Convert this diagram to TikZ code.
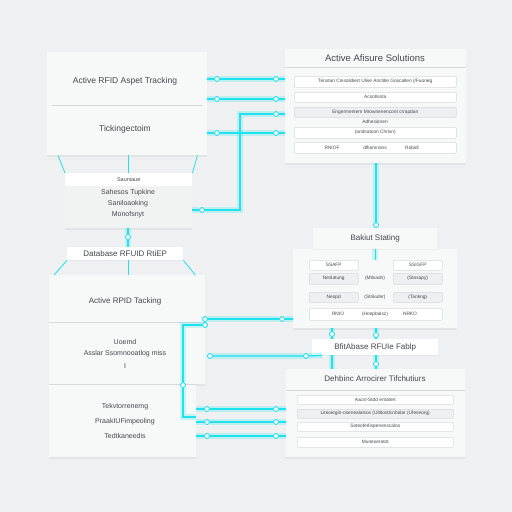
\documentclass[tikz,border=0pt]{standalone}
\usepackage{fontspec}
\setmainfont{Liberation Sans}
\usetikzlibrary{shadows}
\definecolor{bgcol}{HTML}{EEF0F1}
\definecolor{panelcol}{HTML}{F7F8F8}
\definecolor{bodycol}{HTML}{F1F3F3}
\definecolor{rowline}{HTML}{D6DADC}
\definecolor{rowgray}{HTML}{EDEFF0}
\definecolor{wirecol}{HTML}{1EE3EE}
\definecolor{textcol}{HTML}{45484B}
\begin{document}
\begin{tikzpicture}[x=1pt, y=-1pt,
	panel/.style={rectangle, anchor=north west, fill=panelcol, inner sep=0pt, drop shadow={shadow xshift=0pt, shadow yshift=-1.5pt, opacity=0.10}},
	tag/.style={rectangle, anchor=north west, fill=white, inner sep=0pt, text=textcol, font=\fontsize{8}{9}\selectfont, drop shadow={shadow xshift=0pt, shadow yshift=-1pt, opacity=0.08}},
	hdr/.style={rectangle, anchor=north west, fill=white, inner sep=0pt, text=textcol, font=\fontsize{5.5}{6}\selectfont},
	row/.style={rectangle, anchor=north west, draw=rowline, line width=0.5pt, fill=white, rounded corners=1pt, inner sep=0pt, text=textcol, font=\fontsize{4.8}{5}\selectfont},
	rowg/.style={row, fill=rowgray},
	lbl/.style={text=textcol, inner sep=0pt, font=\fontsize{7}{8}\selectfont},
	ttl/.style={lbl, font=\fontsize{8.5}{10}\selectfont},
	tiny/.style={lbl, font=\fontsize{4.8}{5}\selectfont},
	wire/.style={draw=wirecol, line width=1.2pt, preaction={draw=wirecol, line width=6pt, opacity=0.22}},
	thinwire/.style={draw=wirecol, line width=0.8pt},
	dot/.style={circle, draw=wirecol, fill=white, line width=0.9pt, minimum size=5pt, inner sep=0pt},
	sep/.style={draw=rowline, line width=0.5pt}
	]
	\fill[bgcol] (0,0) rectangle (512,512);
	\useasboundingbox (0,0) rectangle (512,512);

	% top left
	\node[panel, minimum width=160, minimum height=103] (A) at (47,52) {};
	\draw[sep] (52,105) -- (203,105);
	\node[ttl] (A1) at (125,81) {Active RFID Aspet Tracking};
	\node[ttl] (A2) at (125,129) {Tickingectoim};

	% top right
	\node[panel, minimum width=181, minimum height=114] (B) at (285,49) {};
	\node[ttl, font=\fontsize{9.5}{11}\selectfont] (B0) at (375,58) {Active Afisure Solutions};
	\draw[sep] (285,67) -- (466,67);
	\node[row, minimum width=162, minimum height=11] (B1) at (294,76) {Tenstan Cinsolidiert Ulise Anctitie Goscallen (/Fuoneg};
	\node[row, minimum width=162, minimum height=10] (B2) at (294,92) {Acsotlsnta};
	\node[rowg, minimum width=162, minimum height=10] (B3) at (294,107) {Engermentem Mrownenencont crrapdan};
	\node[tiny] (B4) at (375,122) {Adhesionen};
	\node[row, minimum width=162, minimum height=11] (B5) at (294,127) {(andsatoon Chrisn)};
	\node[row, minimum width=162, minimum height=11] (B6) at (294,142) {};
	\node[tiny] (B7) at (332,147.5) {RNIOF};
	\node[tiny] (B8) at (375,147.5) {dlhamnans};
	\node[tiny] (B9) at (412,147.5) {Rabidi};

	% middle left
	\node[panel, fill=bodycol, minimum width=127, minimum height=55] (C) at (65,173) {};
	\node[hdr, minimum width=127, minimum height=13] (C0) at (65,173) {Sauniaue};
	\node[lbl] (C1) at (128,193) {Sahesos Tupkine};
	\node[lbl] (C2) at (128,204) {Saniloaoking};
	\node[lbl] (C3) at (128,215) {Monofsnyt};
	\node[tag, minimum width=116, minimum height=13] (D) at (67,247) {Database RFUID RtiEP};

	% bottom left
	\node[panel, minimum width=156, minimum height=109] (E) at (49,275) {};
	\node[panel, minimum width=147, minimum height=73] (E2) at (49,384) {};
	\draw[sep] (49,322) -- (205,322);
	\draw[sep] (49,384) -- (196,384);
	\node[ttl, font=\fontsize{8}{9}\selectfont] (E1) at (125,301) {Active RPID Tacking};
	\node[lbl] (E3) at (125,342) {Uoemd};
	\node[lbl] (E4) at (125,354) {Asslar Ssomnooatlog miss};
	\node[lbl] (E5) at (125,366) {I};
	\node[lbl] (E6) at (125,407) {Tekvtorrenemg};
	\node[lbl] (E7) at (125,422) {PraakIUFimpeoling};
	\node[lbl] (E8) at (125,436) {Tedtkaneedis};

	% backup
	\node[panel, minimum width=164, minimum height=79] (S) at (293,249) {};
	\node[tag, fill=panelcol, minimum width=124, minimum height=21] (S0) at (313,228) {Bakiut Stating};
	\node[row, minimum width=49, minimum height=10] (S1) at (309,260) {SSAFP};
	\node[row, minimum width=49, minimum height=10] (S2) at (393,260) {SSIGFP};
	\node[rowg, minimum width=49, minimum height=11] (S3) at (309,273) {Neslatung};
	\node[tiny] (S4) at (375,278.5) {(Mtlsadn)};
	\node[rowg, minimum width=49, minimum height=11] (S5) at (393,273) {(Stosapy)};
	\node[rowg, minimum width=49, minimum height=10] (S6) at (309,292) {Neopd};
	\node[tiny] (S7) at (375,297) {(Strikufer)};
	\node[rowg, minimum width=49, minimum height=10] (S8) at (393,292) {(Tankng)};
	\node[row, minimum width=133, minimum height=12] (S9) at (309,308) {};
	\node[tiny] (S10) at (338,314) {RNIO};
	\node[tiny] (S11) at (375,314) {(Hoepbalsz)};
	\node[tiny] (S12) at (410,314) {NRKO};

	% bottom right
	\node[tag, minimum width=126, minimum height=16] (F) at (312,339) {BfitAbase RFUIe Fablp};
	\node[panel, minimum width=179, minimum height=88] (G) at (286,369) {};
	\node[ttl, font=\fontsize{8}{9}\selectfont] (G0) at (375,379) {Dehbinc Arrocirer Tifchutiurs};
	\draw[sep] (286,390) -- (465,390);
	\node[row, minimum width=156, minimum height=9] (G1) at (297,395) {Aacsl-Stdd entatert};
	\node[rowg, minimum width=156, minimum height=9] (G2) at (297,409) {Liteoiegitr-osenealalsos (Ultitosttcnbidar (Ufeseorg)};
	\node[row, minimum width=156, minimum height=9] (G3) at (297,422) {Soteoferlinpenenscalos};
	\node[row, minimum width=156, minimum height=10] (G4) at (297,437) {Muneseratot};

	% dots
	\node[dot] (a1) at (217,79) {};
	\node[dot] (a2) at (217,99) {};
	\node[dot] (a3) at (217,133) {};
	\node[dot] (b1) at (276,79) {};
	\node[dot] (b2) at (276,99) {};
	\node[dot] (b3) at (276,114) {};
	\node[dot] (b4) at (276,133) {};
	\node[dot] (b5) at (376,225) {};
	\node[dot] (c1) at (202,210) {};
	\node[dot] (c2) at (128,237) {};
	\node[dot] (e1) at (205,319) {};
	\node[dot] (e2) at (205,325) {};
	\node[dot] (e3) at (183,385) {};
	\node[dot] (e4) at (210,356) {};
	\node[dot] (s1) at (282,319) {};
	\node[dot] (f0) at (306,356) {};
	\node[dot] (f1) at (332,334) {};
	\node[dot] (f2) at (376,335) {};
	\node[dot] (f3) at (376,364) {};
	\coordinate (k1) at (240,114);
	\coordinate (k2) at (240,210);
	\coordinate (k3) at (183,325);
	\coordinate (k4) at (183,417);

	% connectors
	\draw[wire] (A.east |- a1) -- (a1) -- (b1) -- (B.west |- b1);
	\draw[wire] (A.east |- a2) -- (a2) -- (b2) -- (B.west |- b2);
	\draw[wire] (A.east |- a3) -- (a3) -- (b4) -- (B.west |- b4);
	\draw[wire] (B.west |- b3) -- (b3) -- (k1) -- (k2) -- (c1) -- (C.east |- c1);
	\draw[wire] (B.south -| b5) -- (b5);
	\draw[thinwire] (A.south -| C.north) -- (C.north);
	\draw[thinwire] ([xshift=11]A.south west) -- (C.north west);
	\draw[thinwire] ([xshift=-10]A.south east) -- (C.north east);
	\draw[wire] (C.south -| c2) -- (c2) -- (D.north -| c2);
	\draw[thinwire] (D.south -| c2) -- (E.north -| c2);
	\draw[thinwire] (D.south west) -- ([xshift=5]E.north west);
	\draw[thinwire] (D.south east) -- ([xshift=-10]E.north east);
	\draw[wire] (e1) -- (s1) -- (S.west |- s1);
	\draw[wire] (e2) -- (k3) -- (e3) -- (k4) -- (E2.east |- k4);
	\draw[wire] (e4) -- (f0) -- ([xshift=10]F.south west);
	\draw[wire] (S0.south) -- (S0.south |- S1.north);
	\draw[wire] (S.south -| f1) -- (f1) -- (F.north -| f1);
	\draw[wire] (S.south -| f2) -- (f2) -- (F.north -| f2);
	\draw[wire] (F.south -| f1) -- (G.north -| f1);
	\draw[wire] (F.south -| f3) -- (f3) -- (G.north -| f3);
	\foreach \i/\y in {1/409, 2/422, 3/436} {
		\node[dot] (gl\i) at (207,\y) {};
		\node[dot] (gr\i) at (276,\y) {};
		\draw[wire] (E2.east |- gl\i) -- (gl\i) -- (gr\i) -- (G.west |- gr\i);
	}
\end{tikzpicture}
\end{document}
